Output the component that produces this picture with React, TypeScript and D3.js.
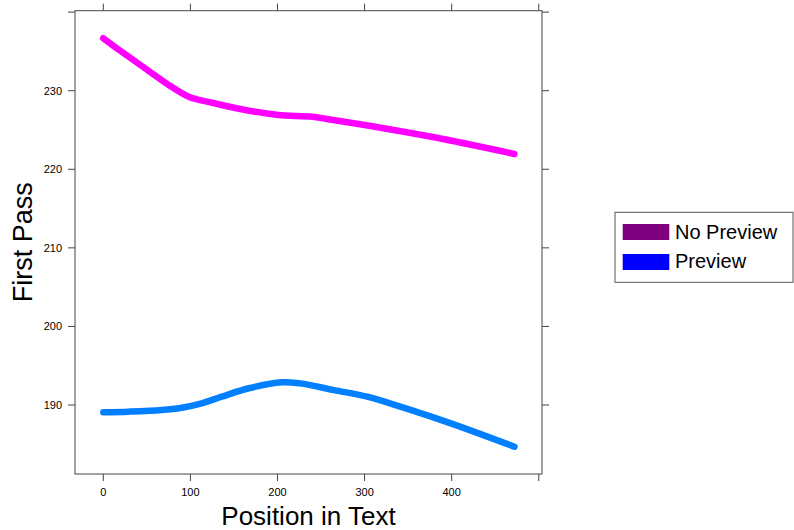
import React from 'react';
import * as d3 from 'd3';

// values
const positions = [0, 21, 48, 75, 98, 125, 163, 201, 240, 264, 322, 380, 472];
const noPreview = [236.67, 234.96, 232.85, 230.73, 229.24, 228.47, 227.54, 226.91, 226.69, 226.27, 225.22, 224.07, 221.95];

const positionsPreview = [0, 29, 67, 90, 113, 136, 167, 205, 226, 265, 303, 341, 399, 472];
const preview = [189.07, 189.15, 189.36, 189.66, 190.22, 191.06, 192.13, 192.9, 192.75, 191.9, 191.06, 189.79, 187.66, 184.69];

const xTicks = [0, 100, 200, 300, 400, 500];
const xLabels = ['0', '100', '200', '300', '400'];
const yTicks = [190, 200, 210, 220, 230, 240];
const yLabels = ['190', '200', '210', '220', '230'];

const legendItems = [
  { label: 'No Preview', color: '#800080' },
  { label: 'Preview', color: '#0000FF' }
];

const font = '"Liberation Sans", Arial, Helvetica, sans-serif';

const App = () => {
  const width = 794;
  const height = 530;
  const panel = { left: 75, right: 542, top: 10.7, bottom: 474 };

  const x = d3.scaleLinear().domain([-32.5, 503.7]).range([panel.left, panel.right]);
  const y = d3.scaleLinear().domain([181.22, 240.18]).range([panel.bottom, panel.top]);

  const line = d3.line<[number, number]>()
    .x(d => x(d[0]))
    .y(d => y(d[1]))
    .curve(d3.curveCatmullRom.alpha(0.5));

  const magentaPath = line(positions.map((p, i) => [p, noPreview[i]]) as [number, number][]) || '';
  const bluePath = line(positionsPreview.map((p, i) => [p, preview[i]]) as [number, number][]) || '';

  const tickLen = 7;
  const axisColor = '#444';

  return (
    <div style={{ position: 'absolute', left: 0, top: 0 }}>
      <svg width={width} height={height} style={{ display: 'block', background: '#fff' }}>
        {/* panel border */}
        <rect x={panel.left} y={panel.top} width={panel.right - panel.left} height={panel.bottom - panel.top}
          fill="none" stroke={axisColor} strokeWidth={1} />

        {/* x ticks bottom and top */}
        {xTicks.map(t => (
          <g key={'x' + t}>
            <line x1={x(t)} x2={x(t)} y1={panel.bottom} y2={panel.bottom + tickLen} stroke={axisColor} />
            <line x1={x(t)} x2={x(t)} y1={panel.top} y2={panel.top - tickLen} stroke={axisColor} />
          </g>
        ))}
        {xLabels.map((l, i) => (
          <text key={'xl' + l} x={x(xTicks[i])} y={496} textAnchor="middle" fontFamily={font} fontSize={11} fill="#000">{l}</text>
        ))}

        {/* y ticks left and right */}
        {yTicks.map(t => (
          <g key={'y' + t}>
            <line x1={panel.left} x2={panel.left - tickLen} y1={y(t)} y2={y(t)} stroke={axisColor} />
            <line x1={panel.right} x2={panel.right + tickLen} y1={y(t)} y2={y(t)} stroke={axisColor} />
          </g>
        ))}
        {yLabels.map((l, i) => (
          <text key={'yl' + l} x={62} y={y(yTicks[i])} dy="0.35em" textAnchor="end" fontFamily={font} fontSize={11} fill="#000">{l}</text>
        ))}

        {/* lines */}
        <path d={magentaPath} fill="none" stroke="#FF00FF" strokeWidth={6.5} strokeLinecap="round" strokeLinejoin="round" />
        <path d={bluePath} fill="none" stroke="#0080FF" strokeWidth={6.5} strokeLinecap="round" strokeLinejoin="round" />

        {/* axis titles */}
        <text x={(panel.left + panel.right) / 2} y={525} textAnchor="middle" fontFamily={font} fontSize={26} fill="#000">Position in Text</text>
        <text transform={`translate(32,${(panel.top + panel.bottom) / 2}) rotate(-90)`} textAnchor="middle" fontFamily={font} fontSize={27} fill="#000">First Pass</text>

        {/* legend */}
        <rect x={615} y={212.3} width={178} height={70} fill="#fff" stroke="#555" strokeWidth={1} />
        {legendItems.map((item, i) => (
          <g key={item.label}>
            <rect x={622.7} y={224 + i * 30} width={46.6} height={16} fill={item.color} />
            <text x={675} y={238.5 + i * 29.5} fontFamily={font} fontSize={20} fill="#000">{item.label}</text>
          </g>
        ))}
      </svg>
    </div>
  );
};

export default App;
